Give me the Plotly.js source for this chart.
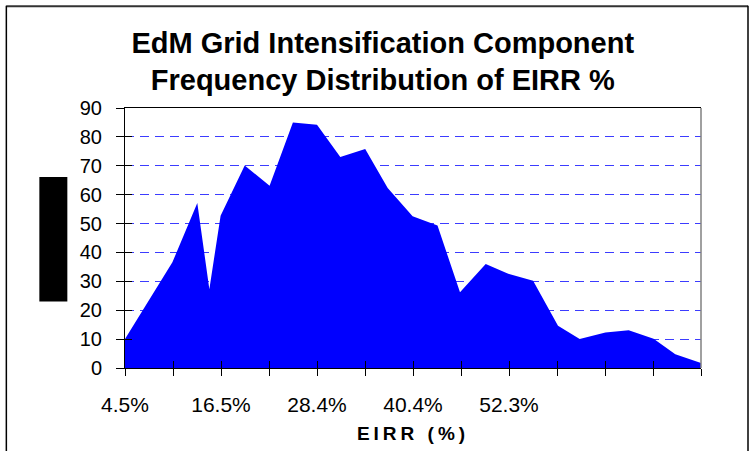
<!DOCTYPE html>
<html>
<head>
<meta charset="utf-8">
<script src="https://cdn.plot.ly/plotly-3.0.1.min.js"></script>
<style>html,body{margin:0;padding:0;background:#fff;}#chart{width:752px;height:451px;}
.xtitle{letter-spacing:4px;}</style>
</head>
<body>
<div id="chart"></div>
<script>
// EIRR (%) bin positions
const eirr = [4.5, 10.4, 13.5, 15.0, 16.4, 19.4, 22.5, 25.4, 28.4, 31.3, 34.4, 37.2, 40.3, 43.4, 46.2, 49.4, 52.2, 55.3, 58.4, 61.1, 64.3, 67.2, 70.3, 73.0, 76.2];
// Frequency values
const frequency = [10.0, 36.6, 57.1, 27.3, 52.7, 70.1, 63.1, 85.0, 84.2, 73.0, 75.8, 62.3, 52.5, 49.3, 26.2, 36.0, 32.6, 30.2, 14.6, 10.0, 12.3, 13.1, 10.1, 4.8, 1.7];
// Category tick marks and their labels
const tickPositions = [4.5, 10.475, 16.45, 22.425, 28.4, 34.375, 40.35, 46.325, 52.3, 58.275, 64.25, 70.225, 76.2];
const tickLabels = ['4.5%', '', '16.5%', '', '28.4%', '', '40.4%', '', '52.3%', '', '', '', ''];
const yTicks = [0, 10, 20, 30, 40, 50, 60, 70, 80, 90];

const FONT = 'Liberation Sans, Arial, sans-serif';
const xRange = [tickPositions[0], tickPositions[tickPositions.length - 1]];
const yRange = [0, 90];

const traces = [
  {
    x: eirr, y: frequency, type: 'scatter', mode: 'lines',
    fill: 'tozeroy', fillcolor: '#0000FF',
    line: {width: 0, color: '#0000FF'},
    hoverinfo: 'x+y', showlegend: false
  },
  {x: [], y: [], xaxis: 'x2', yaxis: 'y2', type: 'scatter', showlegend: false}
];

const layout = {
  width: 752, height: 451,
  paper_bgcolor: '#FFFFFF', plot_bgcolor: '#FFFFFF',
  margin: {l: 125, r: 51, t: 108, b: 83},
  font: {family: FONT, color: '#000'},
  title: {
    text: 'EdM Grid Intensification Component<br>Frequency Distribution of EIRR %',
    font: {family: FONT, size: 29, color: '#000', weight: 'bold'},
    x: 0.509, xanchor: 'center', xref: 'container',
    y: 0.883, yanchor: 'top', yref: 'container'
  },
  xaxis: {
    range: xRange, tickmode: 'array', tickvals: tickPositions, ticktext: tickLabels,
    ticks: 'outside', ticklen: 7, tickcolor: '#000', tickwidth: 1,
    showline: true, linecolor: '#000', linewidth: 1, mirror: true,
    showgrid: false, zeroline: false,
    tickfont: {family: FONT, size: 21, color: '#000'},
    ticklabelstandoff: 11,
    title: {text: 'EIRR (%)', font: {family: FONT, size: 19, color: '#000', weight: 'bold'}, standoff: 11},
    automargin: false, fixedrange: true
  },
  yaxis: {
    range: yRange, tickmode: 'array', tickvals: yTicks,
    ticks: 'outside', ticklen: 8, tickcolor: '#000', tickwidth: 1,
    showline: true, linecolor: '#000', linewidth: 1,
    showgrid: true, gridcolor: '#3c3cff', gridwidth: 1, griddash: '9px,6px',
    zeroline: false,
    tickfont: {family: FONT, size: 20, color: '#000'},
    ticklabelstandoff: 10,
    automargin: false, fixedrange: true
  },
  xaxis2: {
    overlaying: 'x', anchor: 'y2', side: 'bottom', range: xRange,
    tickmode: 'array', tickvals: tickPositions, ticks: 'inside', ticklen: 7,
    tickcolor: '#000', showticklabels: false, showgrid: false, zeroline: false, showline: false
  },
  yaxis2: {
    overlaying: 'y', anchor: 'x2', side: 'left', range: yRange,
    tickmode: 'array', tickvals: yTicks, ticks: 'inside', ticklen: 7,
    tickcolor: '#000', showticklabels: false, showgrid: false, zeroline: false, showline: false
  },
  shapes: [
    {type: 'line', xref: 'paper', yref: 'paper', x0: 1, x1: 1, y0: 0, y1: 1,
     line: {color: '#808080', width: 1.5}},
    {type: 'rect', xref: 'paper', yref: 'paper', x0: -0.1487, x1: -0.1001, y0: 0.256, y1: 0.7346,
     fillcolor: '#000', line: {width: 0}},
    {type: 'line', xref: 'paper', yref: 'paper', x0: -0.206, x1: 1.0816, y0: 1.3915, y1: 1.3915,
     line: {color: '#333', width: 2}},
    {type: 'line', xref: 'paper', yref: 'paper', x0: -0.206, x1: -0.206, y0: -0.36, y1: 1.3935,
     line: {color: '#000', width: 1.5}},
    {type: 'line', xref: 'paper', yref: 'paper', x0: 1.0816, x1: 1.0816, y0: -0.36, y1: 1.3935,
     line: {color: '#000', width: 1.5}}
  ],
  showlegend: false
};

Plotly.newPlot('chart', traces, layout, {displayModeBar: false, staticPlot: true});
</script>
</body>
</html>
